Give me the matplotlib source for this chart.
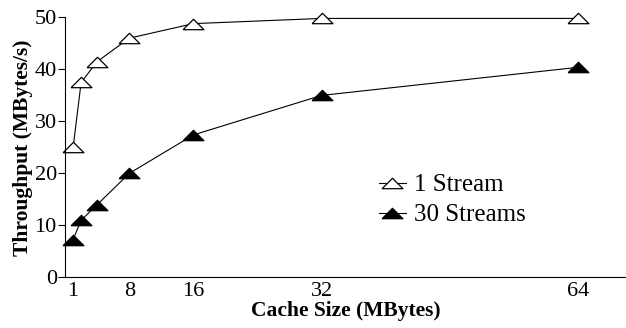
import matplotlib
matplotlib.use("Agg")
import matplotlib.pyplot as plt

cache_mb = [1, 2, 4, 8, 16, 32, 64]
one_stream = [25, 37.5, 41.5, 46, 48.8, 49.8, 49.8]
thirty_streams = [7.3, 11, 14, 20, 27.4, 35, 40.4]
x_ticks = [1, 8, 16, 32, 64]
y_ticks = [0, 10, 20, 30, 40, 50]

plt.rcParams["font.family"] = "Liberation Serif"

# flat triangle marker, about twice as wide as tall
tri = [(-1, -0.5), (1, -0.5), (0, 0.5), (-1, -0.5)]

fig = plt.figure(figsize=(6.26, 3.28), dpi=100)
ax = fig.add_axes([0.104, 0.154, 0.896, 0.793])

ax.plot(cache_mb, one_stream, color="black", lw=0.8, marker=tri, ms=15,
        mfc="white", mec="black", mew=0.9, clip_on=False, label="1 Stream")
ax.plot(cache_mb, thirty_streams, color="black", lw=0.8, marker=tri, ms=15,
        mfc="black", mec="black", mew=0.9, clip_on=False, label="30 Streams")

ax.set_xlim(0, 70)
ax.set_ylim(0, 50)
ax.set_xticks(x_ticks)
ax.set_yticks(y_ticks)
ax.tick_params(axis="x", length=0, pad=3, labelsize=16)
ax.tick_params(axis="y", direction="out", length=5, width=0.8, pad=1, labelsize=16)
for side in ("top", "right"):
    ax.spines[side].set_visible(False)
for side in ("left", "bottom"):
    ax.spines[side].set_linewidth(0.8)

ax.set_xlabel("Cache Size (MBytes)", fontsize=15.5, fontweight="bold", labelpad=0)
ax.set_ylabel("Throughput (MBytes/s)", fontsize=15.5, fontweight="bold", labelpad=1)

ax.legend(loc="upper left", bbox_to_anchor=(0.605, 0.47), bbox_transform=fig.transFigure,
          frameon=False, fontsize=18, handlelength=1.1, handletextpad=0.3,
          labelspacing=0.3, borderaxespad=0, borderpad=0)

fig.savefig("out.png", dpi=100)
